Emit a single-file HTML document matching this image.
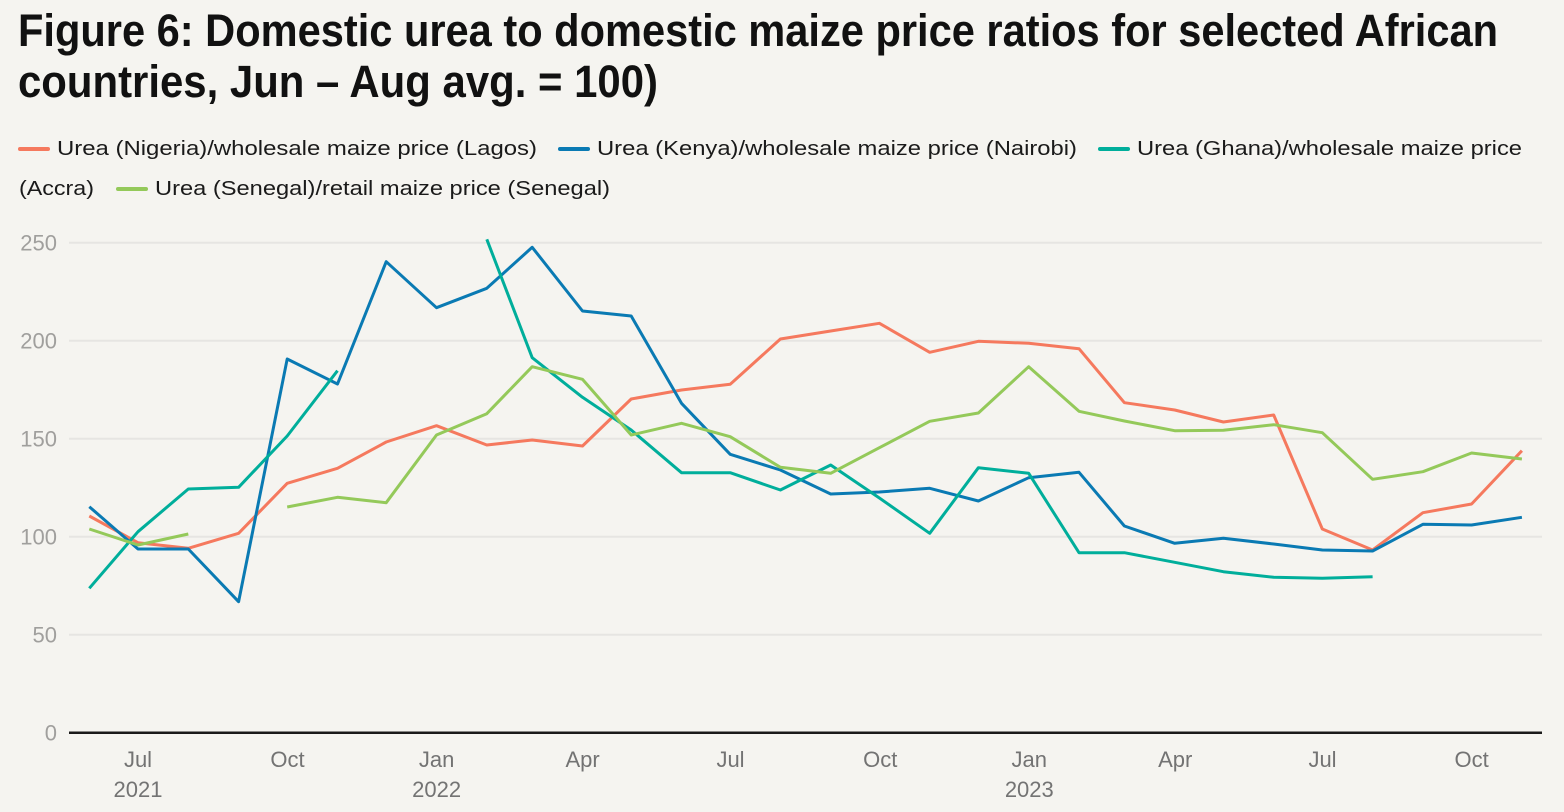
<!DOCTYPE html>
<html>
<head>
<meta charset="utf-8">
<style>
  html,body{margin:0;padding:0;background:#f5f4f0;}
  svg{display:block;}
  text{font-family:"Liberation Sans", Arial, sans-serif;}
</style>
</head>
<body>
<svg width="1564" height="812" viewBox="0 0 1564 812" xmlns="http://www.w3.org/2000/svg">
  <rect x="0" y="0" width="1564" height="812" fill="#f5f4f0"/>

  <!-- Title -->
  <text x="18" y="46" font-size="45" font-weight="bold" fill="#111" textLength="1480" lengthAdjust="spacingAndGlyphs">Figure 6: Domestic urea to domestic maize price ratios for selected African</text>
  <text x="18" y="97" font-size="45" font-weight="bold" fill="#111" textLength="640" lengthAdjust="spacingAndGlyphs">countries, Jun – Aug avg. = 100)</text>

  <!-- Legend -->
  <g font-size="20" fill="#1a1a1a">
    <line x1="20" y1="149" x2="48" y2="149" stroke="#f5795e" stroke-width="4" stroke-linecap="round"/>
    <text x="57" y="155" textLength="480" lengthAdjust="spacingAndGlyphs">Urea (Nigeria)/wholesale maize price (Lagos)</text>
    <line x1="560" y1="149" x2="588" y2="149" stroke="#0a7ab3" stroke-width="4" stroke-linecap="round"/>
    <text x="597" y="155" textLength="480" lengthAdjust="spacingAndGlyphs">Urea (Kenya)/wholesale maize price (Nairobi)</text>
    <line x1="1100" y1="149" x2="1128" y2="149" stroke="#00ae9b" stroke-width="4" stroke-linecap="round"/>
    <text x="1137" y="155" textLength="385" lengthAdjust="spacingAndGlyphs">Urea (Ghana)/wholesale maize price</text>
    <text x="19" y="195" textLength="75" lengthAdjust="spacingAndGlyphs">(Accra)</text>
    <line x1="118" y1="189" x2="146" y2="189" stroke="#94c95a" stroke-width="4" stroke-linecap="round"/>
    <text x="155" y="195" textLength="455" lengthAdjust="spacingAndGlyphs">Urea (Senegal)/retail maize price (Senegal)</text>
  </g>

  <!-- Gridlines -->
  <g stroke="#e6e5e2" stroke-width="2">
    <line x1="69" y1="242.7" x2="1542" y2="242.7"/>
    <line x1="69" y1="340.7" x2="1542" y2="340.7"/>
    <line x1="69" y1="438.7" x2="1542" y2="438.7"/>
    <line x1="69" y1="536.7" x2="1542" y2="536.7"/>
    <line x1="69" y1="634.7" x2="1542" y2="634.7"/>
  </g>

  <!-- Y labels -->
  <g font-size="22" fill="#a09f9d" text-anchor="end">
    <text x="57" y="250.5">250</text>
    <text x="57" y="348.5">200</text>
    <text x="57" y="446.5">150</text>
    <text x="57" y="544.5">100</text>
    <text x="57" y="642.5">50</text>
    <text x="57" y="740.5">0</text>
  </g>

  <!-- Series -->
  <g fill="none" stroke-width="3" stroke-linejoin="round">
    <polyline stroke="#f5795e" points="89.3,516 138,542.7 188.3,548.3 238.6,533.3 287.2,483.3 337.5,468.3 386.2,442 436.5,425.7 486.8,445 532.2,440 582.5,446 631.2,399 681.5,390 730.2,384.3 780.4,339 830.7,331 879.4,323.3 929.7,352.3 978.4,341.3 1028.7,343.3 1079,348.7 1124.4,402.7 1174.7,410 1223.4,422 1273.7,415 1322.3,529 1372.6,550 1422.9,512.7 1471.6,504 1521.9,450.7"/>
    <polyline stroke="#0a7ab3" points="89.3,506.7 138,549 188.3,549 238.6,601.7 287.2,359 337.5,384 386.2,261.7 436.5,307.7 486.8,288.3 532.2,247.3 582.5,311 631.2,316 681.5,403.3 730.2,454.3 780.4,470 830.7,494 879.4,492 929.7,488.3 978.4,501 1028.7,477.7 1079,472.3 1124.4,526 1174.7,543.3 1223.4,538.3 1273.7,544 1322.3,550 1372.6,551 1422.9,524.3 1471.6,525 1521.9,517.3"/>
    <polyline stroke="#00ae9b" points="89.3,588.3 138,531.7 188.3,489 238.6,487.3 287.2,436 337.5,370.7"/>
    <polyline stroke="#00ae9b" points="486.8,239.3 532.2,357.7 582.5,397.3 631.2,430 681.5,472.7 730.2,472.7 780.4,490 830.7,465 879.4,498 929.7,533.3 978.4,467.7 1028.7,473.3 1079,552.7 1124.4,552.7 1174.7,562.3 1223.4,571.7 1273.7,577.3 1322.3,578.3 1372.6,576.7"/>
    <polyline stroke="#94c95a" points="89.3,529 138,545 188.3,534"/>
    <polyline stroke="#94c95a" points="287.2,507 337.5,497.3 386.2,502.7 436.5,435 486.8,413.7 532.2,366.7 582.5,379.3 631.2,435 681.5,423.3 730.2,436.7 780.4,467.3 830.7,473.3 879.4,447.7 929.7,421.3 978.4,413 1028.7,366.7 1079,411.3 1124.4,421 1174.7,430.7 1223.4,430.3 1273.7,424.7 1322.3,432.7 1372.6,479.3 1422.9,471.7 1471.6,453 1521.9,459"/>
  </g>

  <!-- X axis -->
  <line x1="69" y1="732.7" x2="1542" y2="732.7" stroke="#1a1a1a" stroke-width="2.5"/>
  <g font-size="22" fill="#737373" text-anchor="middle">
    <text x="138" y="767">Jul</text>
    <text x="138" y="797">2021</text>
    <text x="287.5" y="767">Oct</text>
    <text x="436.6" y="767">Jan</text>
    <text x="436.6" y="797">2022</text>
    <text x="582.6" y="767">Apr</text>
    <text x="730.5" y="767">Jul</text>
    <text x="880.2" y="767">Oct</text>
    <text x="1029.3" y="767">Jan</text>
    <text x="1029.3" y="797">2023</text>
    <text x="1175.2" y="767">Apr</text>
    <text x="1322.5" y="767">Jul</text>
    <text x="1471.6" y="767">Oct</text>
  </g>
</svg>
</body>
</html>
